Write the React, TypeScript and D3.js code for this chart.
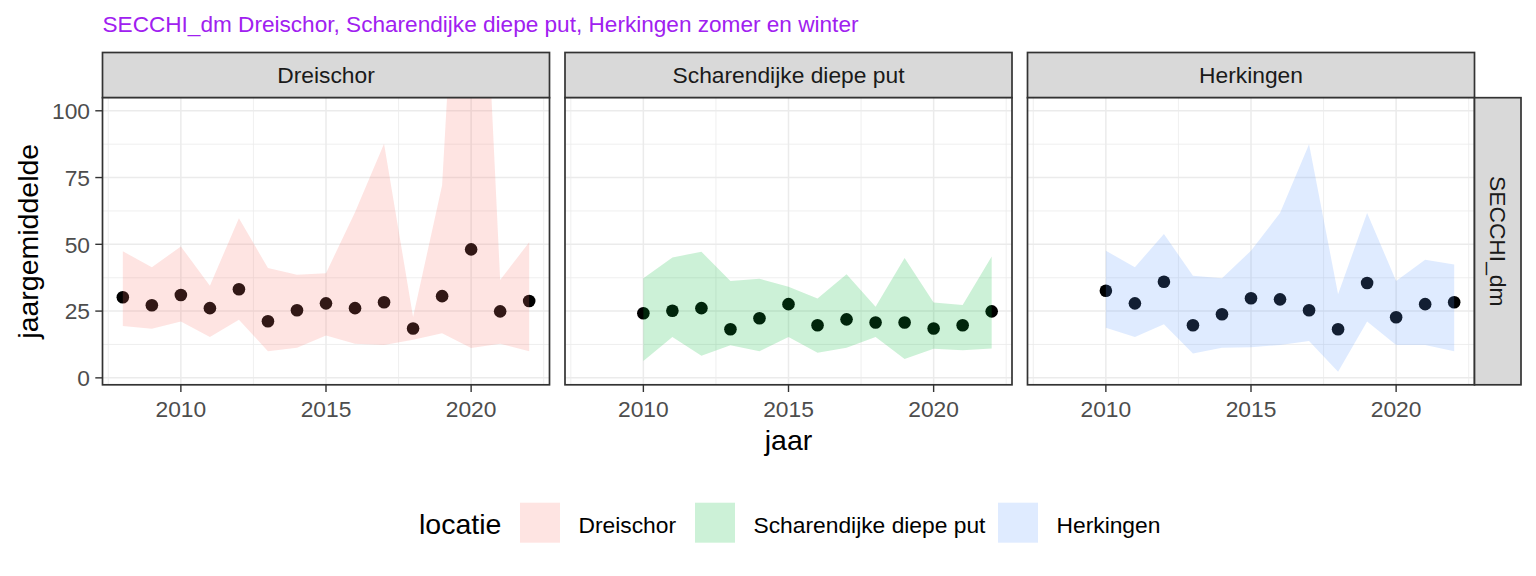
import * as d3 from "d3";
import React from "react";

// Data
const locations = ["Dreischor", "Scharendijke diepe put", "Herkingen"];
const fillColors = ["#F8766D", "#00BA38", "#619CFF"];

const yearsDreischor = [2008, 2009, 2010, 2011, 2012, 2013, 2014, 2015, 2016, 2017, 2018, 2019, 2020, 2021, 2022];
const meanDreischor = [30.2, 27.2, 31.0, 26.1, 33.2, 21.2, 25.3, 27.9, 26.1, 28.3, 18.5, 30.6, 48.1, 24.9, 28.8];
const lowerDreischor = [19.4, 18.4, 21.1, 15.3, 21.8, 10.0, 11.3, 15.9, 12.8, 12.3, 14.3, 16.7, 11.2, 12.8, 10.0];
const upperDreischor = [47.4, 41.4, 49.2, 34.5, 59.8, 41.1, 38.6, 39.2, 62.0, 87.7, 22.8, 72.1, 265, 36.6, 50.8];

const yearsScharendijke = [2010, 2011, 2012, 2013, 2014, 2015, 2016, 2017, 2018, 2019, 2020, 2021, 2022];
const meanScharendijke = [24.2, 25.1, 26.1, 18.2, 22.3, 27.6, 19.7, 21.9, 20.7, 20.7, 18.5, 19.7, 24.9];
const lowerScharendijke = [6.3, 15.3, 8.3, 12.2, 10.0, 15.3, 9.4, 11.3, 15.3, 7.1, 10.9, 10.3, 11.0];
const upperScharendijke = [37.3, 45.1, 47.2, 36.3, 37.1, 34.1, 29.7, 38.8, 26.6, 44.9, 28.2, 27.3, 45.4];

const yearsHerkingen = [2010, 2011, 2012, 2013, 2014, 2015, 2016, 2017, 2018, 2019, 2020, 2021, 2022];
const meanHerkingen = [32.6, 27.9, 36.0, 19.7, 23.8, 29.8, 29.4, 25.3, 18.2, 35.5, 22.7, 27.6, 28.3];
const lowerHerkingen = [18.8, 15.3, 20.1, 9.1, 11.3, 11.5, 12.3, 13.8, 2.3, 21.1, 12.3, 12.3, 10.0];
const upperHerkingen = [47.6, 41.4, 53.9, 38.2, 37.3, 47.6, 61.7, 87.5, 31.3, 61.7, 36.3, 44.2, 42.4];

const xTicks = [2010, 2015, 2020];
const xMinor = [2007.5, 2012.5, 2017.5, 2022.5];
const yTicks = [0, 25, 50, 75, 100];
const yMinor = [12.5, 37.5, 62.5, 87.5];

const title = "SECCHI_dm Dreischor, Scharendijke diepe put, Herkingen zomer en winter";
const facetRow = "SECCHI_dm";
const xTitle = "jaar";
const yTitle = "jaargemiddelde";
const legendTitle = "locatie";

type Row = { year: number; mean: number; lower: number; upper: number };

function zipRows(years: number[], mean: number[], lower: number[], upper: number[]): Row[] {
  return years.map((year, i) => ({ year, mean: mean[i], lower: lower[i], upper: upper[i] }));
}

const series: Row[][] = [
  zipRows(yearsDreischor, meanDreischor, lowerDreischor, upperDreischor),
  zipRows(yearsScharendijke, meanScharendijke, lowerScharendijke, upperScharendijke),
  zipRows(yearsHerkingen, meanHerkingen, lowerHerkingen, upperHerkingen),
];

const FONT = "'Liberation Sans', Arial, Helvetica, sans-serif";

export default function App(): React.ReactElement {
  const width = 1536;
  const height = 576;

  const panelTop = 97.7;
  const panelBottom = 384.8;
  const stripTop = 52.5;
  const panelW = 447;
  const panelLefts = [102.5, 565, 1027.5];
  const rightStripW = 46.5;

  const y = d3.scaleLinear().domain([-2.6, 104.9]).range([panelBottom, panelTop]);

  const border = "#333333";
  const grid = "#EBEBEB";

  return (
    <svg
      width={width}
      height={height}
      style={{ position: "absolute", left: 0, top: 0, background: "#fff" }}
      fontFamily={FONT}
    >
      <defs>
        {panelLefts.map((left, i) => (
          <clipPath id={`clip-${i}`} key={`clip-${i}`}>
            <rect x={left} y={panelTop} width={panelW} height={panelBottom - panelTop} />
          </clipPath>
        ))}
      </defs>

      {/* title */}
      <text x={102.5} y={32} fontSize={22.6} fill="#A020F0">
        {title}
      </text>

      {locations.map((loc, i) => {
        const left = panelLefts[i];
        const x = d3.scaleLinear().domain([2007.3, 2022.7]).range([left, left + panelW]);
        const rows = series[i];
        const area = d3
          .area<Row>()
          .x((d) => x(d.year))
          .y0((d) => y(d.lower))
          .y1((d) => y(d.upper));

        return (
          <g key={loc}>
            {/* strip */}
            <rect
              x={left}
              y={stripTop}
              width={panelW}
              height={panelTop - stripTop}
              fill="#D9D9D9"
              stroke={border}
              strokeWidth={1.7}
            />
            <text
              x={left + panelW / 2}
              y={(stripTop + panelTop) / 2}
              dy="0.36em"
              textAnchor="middle"
              fontSize={22.8}
              fill="#1A1A1A"
            >
              {loc}
            </text>

            {/* grid */}
            <rect x={left} y={panelTop} width={panelW} height={panelBottom - panelTop} fill="#fff" />
            {yMinor.map((t) => (
              <line key={`ym-${t}`} x1={left} x2={left + panelW} y1={y(t)} y2={y(t)} stroke={grid} strokeWidth={0.8} />
            ))}
            {xMinor.map((t) => (
              <line key={`xm-${t}`} x1={x(t)} x2={x(t)} y1={panelTop} y2={panelBottom} stroke={grid} strokeWidth={0.8} />
            ))}
            {yTicks.map((t) => (
              <line key={`yg-${t}`} x1={left} x2={left + panelW} y1={y(t)} y2={y(t)} stroke={grid} strokeWidth={1.5} />
            ))}
            {xTicks.map((t) => (
              <line key={`xg-${t}`} x1={x(t)} x2={x(t)} y1={panelTop} y2={panelBottom} stroke={grid} strokeWidth={1.5} />
            ))}

            <g clipPath={`url(#clip-${i})`}>
              {/* points drawn first, ribbon layered on top */}
              {rows.map((d) => (
                <circle key={`p-${d.year}`} cx={x(d.year)} cy={y(d.mean)} r={6.3} fill="#000" />
              ))}
              <path d={area(rows) ?? ""} fill={fillColors[i]} fillOpacity={0.2} />
            </g>

            {/* panel border */}
            <rect
              x={left}
              y={panelTop}
              width={panelW}
              height={panelBottom - panelTop}
              fill="none"
              stroke={border}
              strokeWidth={1.7}
            />

            {/* x axis */}
            {xTicks.map((t) => (
              <g key={`xt-${t}`}>
                <line x1={x(t)} x2={x(t)} y1={panelBottom} y2={panelBottom + 7.2} stroke={border} strokeWidth={1.4} />
                <text x={x(t)} y={416.5} textAnchor="middle" fontSize={22.8} fill="#4D4D4D">
                  {t}
                </text>
              </g>
            ))}

            {/* y axis only on first panel */}
            {i === 0 &&
              yTicks.map((t) => (
                <g key={`yt-${t}`}>
                  <line x1={left - 7.2} x2={left} y1={y(t)} y2={y(t)} stroke={border} strokeWidth={1.4} />
                  <text x={left - 12.5} y={y(t)} dy="0.36em" textAnchor="end" fontSize={22.8} fill="#4D4D4D">
                    {t}
                  </text>
                </g>
              ))}
          </g>
        );
      })}

      {/* right facet strip */}
      <rect
        x={panelLefts[2] + panelW}
        y={panelTop}
        width={rightStripW}
        height={panelBottom - panelTop}
        fill="#D9D9D9"
        stroke={border}
        strokeWidth={1.7}
      />
      <text
        transform={`translate(${panelLefts[2] + panelW + rightStripW / 2},${(panelTop + panelBottom) / 2}) rotate(90)`}
        dy="0.36em"
        textAnchor="middle"
        fontSize={22.8}
        fill="#1A1A1A"
      >
        {facetRow}
      </text>

      {/* axis titles */}
      <text x={(panelLefts[0] + panelLefts[2] + panelW) / 2} y={450} textAnchor="middle" fontSize={28.5} fill="#000">
        {xTitle}
      </text>
      <text
        transform={`translate(38,${(panelTop + panelBottom) / 2}) rotate(-90)`}
        textAnchor="middle"
        fontSize={28.5}
        fill="#000"
      >
        {yTitle}
      </text>

      {/* legend */}
      <text x={419} y={534} fontSize={28.5} fill="#000">
        {legendTitle}
      </text>
      {locations.map((loc, i) => {
        const keyX = [520, 695, 998][i];
        return (
          <g key={`leg-${loc}`}>
            <rect x={keyX} y={502.7} width={40} height={40} fill={fillColors[i]} fillOpacity={0.2} />
            <text x={keyX + 58.5} y={532.5} fontSize={22.8} fill="#000">
              {loc}
            </text>
          </g>
        );
      })}
    </svg>
  );
}
